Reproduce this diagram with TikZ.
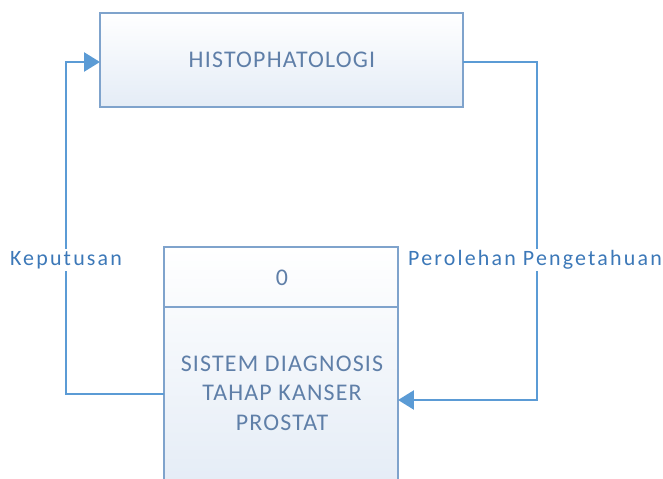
\documentclass[tikz,border=0pt]{standalone}
\usepackage{fontspec}
\setmainfont{Carlito}
\newfontfamily\boxfont[LetterSpace=5]{Carlito}
\newfontfamily\labfont[LetterSpace=10]{Carlito}
\usetikzlibrary{arrows.meta}
\definecolor{lineblue}{HTML}{5B9BD5}
\definecolor{boxedge}{HTML}{7FA3CC}
\definecolor{boxtext}{HTML}{5F7FA8}
\definecolor{labeltext}{HTML}{3C78B8}
\definecolor{fillblue}{HTML}{E4ECF6}
\tikzset{
  procbox/.style={draw=boxedge, line width=1.2pt, top color=white, bottom color=fillblue},
  boxlabel/.style={text=boxtext, font=\boxfont\fontsize{24}{29.5}\selectfont, align=center},
  flow/.style={draw=lineblue, line width=2.5pt, -{Triangle[length=16pt,width=19pt]}},
  flowlabel/.style={text=labeltext, fill=white, font=\labfont\fontsize{22}{24}\selectfont, inner sep=2pt}
}
\begin{document}
\begin{tikzpicture}[x=1bp,y=-1bp]
\useasboundingbox (0,0) rectangle (663,479);
\clip (0,0) rectangle (663,479);
% top box
\path[procbox] (100,13) rectangle (463,107);
\node[boxlabel] (hist) at (282,60) {HISTOPHATOLOGI};
\coordinate (histW) at (100,62);
\coordinate (histE) at (463,62);
% bottom box
\path[procbox] (164,247) rectangle (398,490);
\draw[boxedge, line width=1.2pt] (164,307) -- (398,307);
\node[boxlabel] (num) at (282,278) {0};
\node[boxlabel] (sys) at (282,393) {SISTEM DIAGNOSIS\\TAHAP KANSER\\PROSTAT};
\coordinate (sysW) at (164,394);
\coordinate (sysE) at (398,400);
% connectors
\draw[flow] (sysW) -- (66,394) -- (66,62) -- (histW);
\draw[flow] (histE) -- (537,62) -- (537,400) -- (sysE);
% labels
\node[flowlabel] (kep) at (66,260) {Keputusan};
\node[flowlabel] (per) at (535,260) {Perolehan Pengetahuan};
\end{tikzpicture}
\end{document}
